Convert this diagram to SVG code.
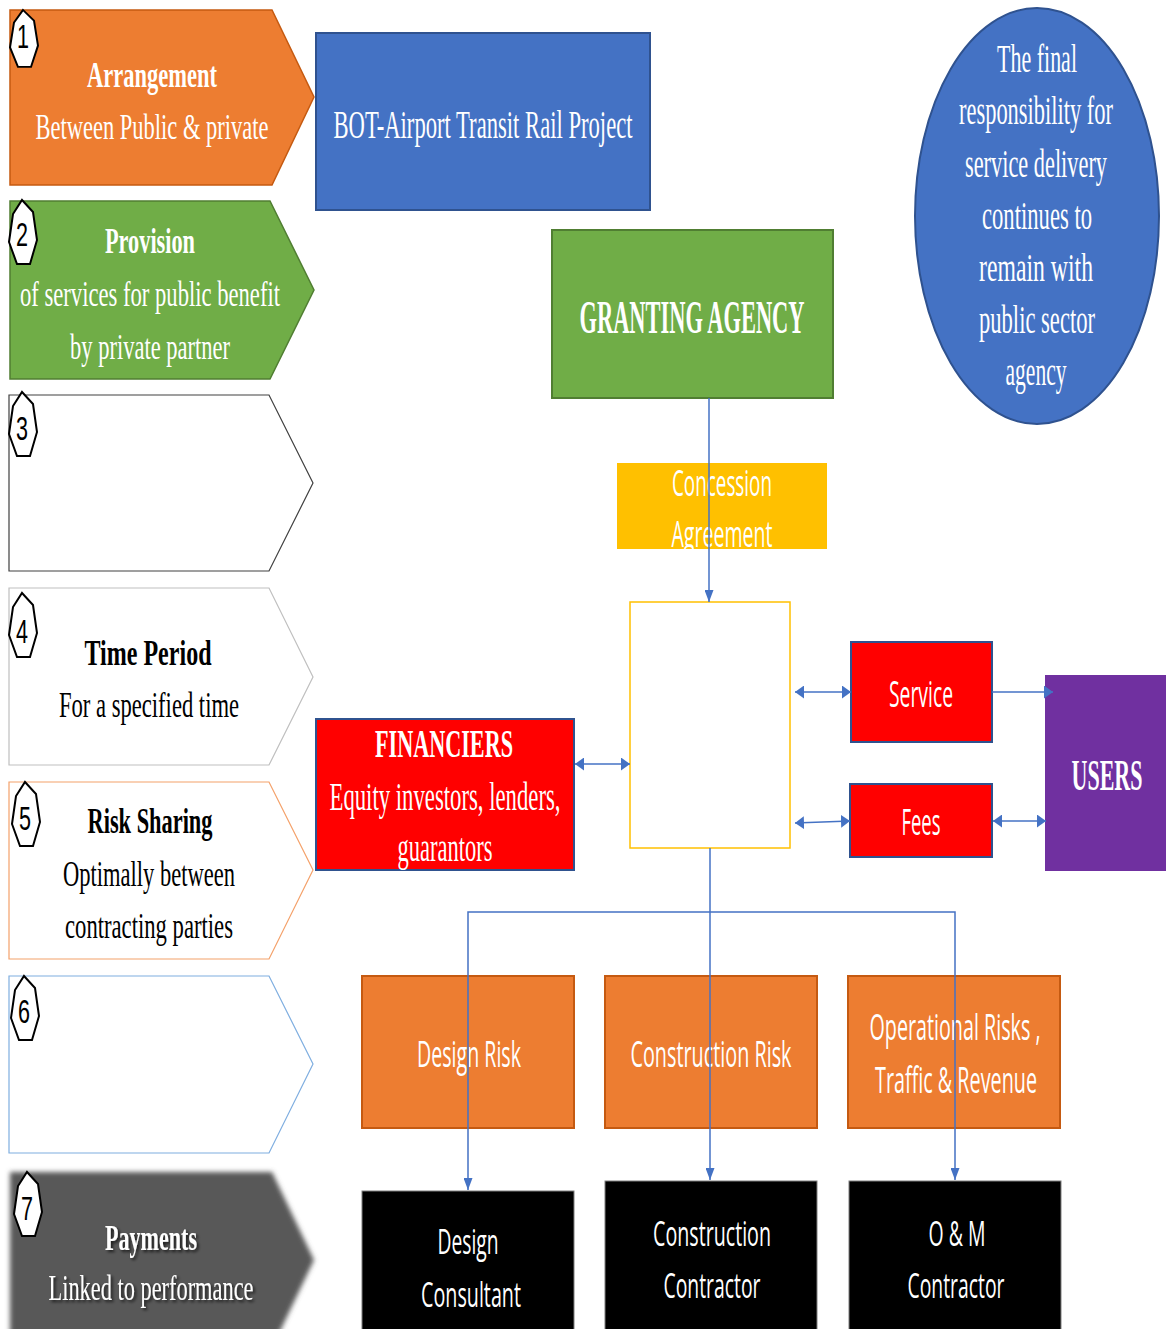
<svg xmlns="http://www.w3.org/2000/svg" width="1166" height="1329" viewBox="0 0 1166 1329">
  <style>
    .serif { font-family: "Liberation Serif", "Times New Roman", serif; text-anchor: middle; }
    .sans { font-family: "Open Sans", "Liberation Sans", sans-serif; text-anchor: middle; fill: #fff; }
    .w { fill: #fff; }
    .k { fill: #000; }
    .b { font-weight: bold; }
    .chev { font-size: 35px; }
    .num { font-family: "Liberation Sans", Arial, sans-serif; font-size: 34px; text-anchor: middle; fill: #000; }
    .hex { fill: #fff; stroke: #000; stroke-width: 2; stroke-linejoin: miter; }
    .conn { fill: none; stroke: #4472C4; stroke-width: 1.5; }
    .red { fill: #FF0000; stroke: #2F528F; stroke-width: 2; }
    .risk { fill: #ED7D31; stroke: #C55A11; stroke-width: 2; }
    .blk { fill: #000; stroke: #7F7F7F; stroke-width: 1; }
  </style>
  <defs>
    <path id="hexa" d="M0,0 L11,12 L15,40 L8,64 L-5,64 L-13,42 L-9,14 Z"/>
    <marker id="arrV" viewBox="0 0 12 9" refX="12" refY="4.5" markerWidth="12" markerHeight="9" markerUnits="userSpaceOnUse" orient="auto-start-reverse">
      <path d="M0,0 L12,4.5 L0,9 Z" fill="#4472C4"/>
    </marker>
    <marker id="arrH" viewBox="0 0 9 13" refX="9" refY="6.5" markerWidth="9" markerHeight="13" markerUnits="userSpaceOnUse" orient="auto-start-reverse">
      <path d="M0,0 L9,6.5 L0,13 Z" fill="#4472C4"/>
    </marker>
    <filter id="soft" x="-10%" y="-10%" width="120%" height="120%">
      <feGaussianBlur stdDeviation="2.5"/>
    </filter>
    <filter id="shadow" x="-10%" y="-20%" width="130%" height="160%">
      <feDropShadow dx="2" dy="2" stdDeviation="1.8" flood-color="#000" flood-opacity="0.7"/>
    </filter>
    <clipPath id="clipConc"><rect x="617" y="463" width="210" height="86"/></clipPath>
    <clipPath id="clipFin"><rect x="316" y="719" width="258" height="151"/></clipPath>
  </defs>

  <!-- Left column: seven PPP characteristics -->
  <g id="step1">
    <path d="M10,10 H272 L314,97 L272,185 H10 Z" fill="#ED7D31" stroke="#C55A11" stroke-width="1.5"/>
    <use href="#hexa" transform="translate(23,10) scale(1,0.89)" class="hex"/>
    <text class="num" x="23" y="48" textLength="12" lengthAdjust="spacingAndGlyphs">1</text>
    <text class="serif w b chev" x="152" y="87" textLength="130" lengthAdjust="spacingAndGlyphs">Arrangement</text>
    <text class="serif w chev" x="152" y="139" textLength="233" lengthAdjust="spacingAndGlyphs">Between Public &amp; private</text>
  </g>

  <g id="step2">
    <path d="M10,201 H270 L314,290 L270,379 H10 Z" fill="#70AD47" stroke="#507E32" stroke-width="1.5"/>
    <use href="#hexa" x="22" y="200" class="hex"/>
    <text class="num" x="22" y="246" textLength="12" lengthAdjust="spacingAndGlyphs">2</text>
    <text class="serif w b chev" x="150" y="253" textLength="90" lengthAdjust="spacingAndGlyphs">Provision</text>
    <text class="serif w chev" x="150" y="306" textLength="260" lengthAdjust="spacingAndGlyphs">of services for public benefit</text>
    <text class="serif w chev" x="150" y="359" textLength="160" lengthAdjust="spacingAndGlyphs">by private partner</text>
  </g>

  <g id="step3">
    <path d="M9,395 H269 L313,483 L269,571 H9 Z" fill="#fff" stroke="#404040" stroke-width="1.2"/>
    <use href="#hexa" x="22" y="392" class="hex"/>
    <text class="num" x="22" y="440" textLength="12" lengthAdjust="spacingAndGlyphs">3</text>
  </g>

  <g id="step4">
    <path d="M9,588 H269 L313,677 L269,765 H9 Z" fill="#fff" stroke="#BFBFBF" stroke-width="1.2"/>
    <use href="#hexa" x="22" y="593" class="hex"/>
    <text class="num" x="22" y="643" textLength="12" lengthAdjust="spacingAndGlyphs">4</text>
    <text class="serif k b chev" x="148" y="665" textLength="127" lengthAdjust="spacingAndGlyphs">Time Period</text>
    <text class="serif k chev" x="149" y="717" textLength="180" lengthAdjust="spacingAndGlyphs">For a specified time</text>
  </g>

  <g id="step5">
    <path d="M9,782 H269 L313,870 L269,959 H9 Z" fill="#fff" stroke="#F4A16A" stroke-width="1.2"/>
    <use href="#hexa" x="25" y="782" class="hex"/>
    <text class="num" x="25" y="830" textLength="12" lengthAdjust="spacingAndGlyphs">5</text>
    <text class="serif k b chev" x="150" y="833" textLength="125" lengthAdjust="spacingAndGlyphs">Risk Sharing</text>
    <text class="serif k chev" x="149" y="886" textLength="172" lengthAdjust="spacingAndGlyphs">Optimally between</text>
    <text class="serif k chev" x="149" y="938" textLength="168" lengthAdjust="spacingAndGlyphs">contracting parties</text>
  </g>

  <g id="step6">
    <path d="M9,976 H269 L313,1064 L269,1153 H9 Z" fill="#fff" stroke="#7FAEE0" stroke-width="1.2"/>
    <use href="#hexa" x="24" y="976" class="hex"/>
    <text class="num" x="24" y="1023" textLength="12" lengthAdjust="spacingAndGlyphs">6</text>
  </g>

  <g id="step7">
    <path d="M10,1172 H272 L314,1260 L272,1348 H10 Z" fill="#595959" filter="url(#soft)"/>
    <use href="#hexa" x="27" y="1172" class="hex"/>
    <text class="num" x="27" y="1220" textLength="12" lengthAdjust="spacingAndGlyphs">7</text>
    <g filter="url(#shadow)">
      <text class="serif w b chev" x="151" y="1250" textLength="92" lengthAdjust="spacingAndGlyphs">Payments</text>
      <text class="serif w chev" x="151" y="1300" textLength="205" lengthAdjust="spacingAndGlyphs">Linked to performance</text>
    </g>
  </g>

  <!-- Project structure -->
  <g id="project">
    <rect x="316" y="33" width="334" height="177" fill="#4472C4" stroke="#2F528F" stroke-width="2"/>
    <text class="serif w" x="483" y="138" font-size="41" textLength="299" lengthAdjust="spacingAndGlyphs">BOT-Airport Transit Rail Project</text>
  </g>

  <g id="responsibility">
    <ellipse cx="1037" cy="216" rx="122" ry="208" fill="#4472C4" stroke="#2F528F" stroke-width="2"/>
    <g class="serif w" font-size="39">
      <text x="1037" y="72" textLength="80" lengthAdjust="spacingAndGlyphs">The final</text>
      <text x="1036" y="124" textLength="154" lengthAdjust="spacingAndGlyphs">responsibility for</text>
      <text x="1036" y="177" textLength="142" lengthAdjust="spacingAndGlyphs">service delivery</text>
      <text x="1037" y="229" textLength="110" lengthAdjust="spacingAndGlyphs">continues to</text>
      <text x="1036" y="281" textLength="114" lengthAdjust="spacingAndGlyphs">remain  with</text>
      <text x="1037" y="333" textLength="116" lengthAdjust="spacingAndGlyphs">public sector</text>
      <text x="1036" y="385" textLength="61" lengthAdjust="spacingAndGlyphs">agency</text>
    </g>
  </g>

  <g id="granting-agency">
    <rect x="552" y="230" width="281" height="168" fill="#70AD47" stroke="#507E32" stroke-width="2"/>
    <text class="serif w b" x="692" y="333" font-size="47" textLength="225" lengthAdjust="spacingAndGlyphs">GRANTING AGENCY</text>
  </g>

  <g id="concession-agreement">
    <rect x="617" y="463" width="210" height="86" fill="#FFC000"/>
    <g clip-path="url(#clipConc)">
      <text class="sans" x="722" y="496" font-size="36" textLength="100" lengthAdjust="spacingAndGlyphs">Concession</text>
      <text class="sans" x="722" y="547" font-size="36" textLength="101" lengthAdjust="spacingAndGlyphs">Agreement</text>
    </g>
  </g>

  <g id="concessionaire">
    <rect x="630" y="602" width="160" height="246" fill="#fff" stroke="#FFC000" stroke-width="1.5"/>
  </g>

  <g id="financiers">
    <rect x="316" y="719" width="258" height="151" class="red"/>
    <g clip-path="url(#clipFin)">
      <text class="serif w b" x="444" y="757" font-size="40" textLength="138" lengthAdjust="spacingAndGlyphs">FINANCIERS</text>
      <text class="serif w" x="445" y="810" font-size="40" textLength="231" lengthAdjust="spacingAndGlyphs">Equity investors, lenders,</text>
      <text class="serif w" x="445" y="861" font-size="40" textLength="95" lengthAdjust="spacingAndGlyphs">guarantors</text>
    </g>
  </g>

  <g id="service">
    <rect x="851" y="642" width="141" height="100" class="red"/>
    <text class="sans" x="921" y="707" font-size="36" textLength="64" lengthAdjust="spacingAndGlyphs">Service</text>
  </g>

  <g id="fees">
    <rect x="850" y="784" width="142" height="73" class="red"/>
    <text class="sans" x="921" y="835" font-size="36" textLength="39" lengthAdjust="spacingAndGlyphs">Fees</text>
  </g>

  <g id="users">
    <rect x="1045" y="675" width="121" height="196" fill="#7030A0"/>
    <text class="serif w b" x="1107" y="790" font-size="45" textLength="71" lengthAdjust="spacingAndGlyphs">USERS</text>
  </g>

  <g id="design-risk">
    <rect x="362" y="976" width="212" height="152" class="risk"/>
    <text class="sans" x="469" y="1067" font-size="36" textLength="104" lengthAdjust="spacingAndGlyphs">Design Risk</text>
  </g>

  <g id="construction-risk">
    <rect x="605" y="976" width="212" height="152" class="risk"/>
    <text class="sans" x="711" y="1067" font-size="36" textLength="161" lengthAdjust="spacingAndGlyphs">Construction Risk</text>
  </g>

  <g id="operational-risk">
    <rect x="848" y="976" width="212" height="152" class="risk"/>
    <text class="sans" x="955" y="1040" font-size="36" textLength="171" lengthAdjust="spacingAndGlyphs">Operational Risks ,</text>
    <text class="sans" x="956" y="1093" font-size="36" textLength="162" lengthAdjust="spacingAndGlyphs">Traffic &amp; Revenue</text>
  </g>

  <g id="design-consultant">
    <rect x="362" y="1191" width="212" height="150" class="blk"/>
    <text class="sans" x="468" y="1254" font-size="35" textLength="61" lengthAdjust="spacingAndGlyphs">Design</text>
    <text class="sans" x="471" y="1307" font-size="35" textLength="100" lengthAdjust="spacingAndGlyphs">Consultant</text>
  </g>

  <g id="construction-contractor">
    <rect x="605" y="1181" width="212" height="160" class="blk"/>
    <text class="sans" x="712" y="1246" font-size="35" textLength="118" lengthAdjust="spacingAndGlyphs">Construction</text>
    <text class="sans" x="712" y="1298" font-size="35" textLength="97" lengthAdjust="spacingAndGlyphs">Contractor</text>
  </g>

  <g id="om-contractor">
    <rect x="849" y="1181" width="212" height="160" class="blk"/>
    <text class="sans" x="957" y="1246" font-size="35" textLength="57" lengthAdjust="spacingAndGlyphs">O &amp; M</text>
    <text class="sans" x="956" y="1298" font-size="35" textLength="97" lengthAdjust="spacingAndGlyphs">Contractor</text>
  </g>

  <!-- Connectors -->
  <g id="connectors">
    <path class="conn" d="M709,398 V602" marker-end="url(#arrV)"/>
    <path class="conn" d="M710,848 V1180" marker-end="url(#arrV)"/>
    <path class="conn" d="M468,1190 V912 H955 V1180" marker-start="url(#arrV)" marker-end="url(#arrV)"/>
    <path class="conn" d="M575,764 H630" marker-start="url(#arrH)" marker-end="url(#arrH)"/>
    <path class="conn" d="M795,692 H851" marker-start="url(#arrH)" marker-end="url(#arrH)"/>
    <path class="conn" d="M795,823 L850,821" marker-start="url(#arrH)" marker-end="url(#arrH)"/>
    <path class="conn" d="M992,692 H1053" marker-end="url(#arrH)"/>
    <path class="conn" d="M993,821 H1046" marker-start="url(#arrH)" marker-end="url(#arrH)"/>
  </g>
</svg>
